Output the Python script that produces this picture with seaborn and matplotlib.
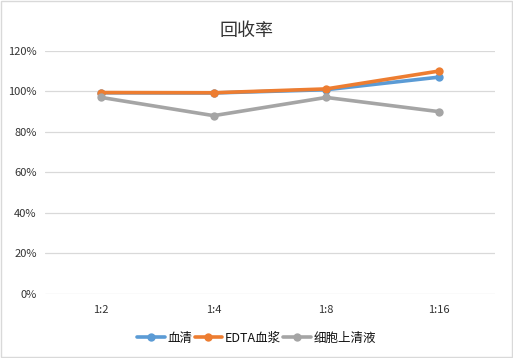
import numpy as np
import pandas as pd
import matplotlib
matplotlib.use('Agg')
import matplotlib.pyplot as plt
import seaborn as sns
from matplotlib.ticker import FuncFormatter

# Data
dilutions = ['1:2', '1:4', '1:8', '1:16']
serum = [99.3, 99.2, 100.8, 107.0]
edta_plasma = [99.4, 99.3, 101.2, 110.0]
cell_supernatant = [97.0, 88.0, 97.0, 90.0]
series_names = ['血清', 'EDTA血浆', '细胞上清液']
colors = ['#5B9BD5', '#ED7D31', '#A5A5A5']

df = pd.DataFrame({
    'dilution': dilutions * 3,
    'x': list(range(len(dilutions))) * 3,
    'value': serum + edta_plasma + cell_supernatant,
    'series': [s for s in series_names for _ in dilutions],
})

sns.set_theme(style='white')
plt.rcParams['font.family'] = ['Noto Sans CJK SC', 'DejaVu Sans']

fig = plt.figure(figsize=(5.13, 3.58), dpi=100)
ax = fig.add_axes([0.0877, 0.179, 0.877, 0.679])

sns.lineplot(data=df, x='x', y='value', hue='series', hue_order=series_names,
             palette=colors, marker='o', markersize=6, markeredgewidth=0,
             linewidth=2.6, ax=ax, legend=False)

ax.set_xlim(-0.5, 3.5)
ax.set_ylim(0, 120)
ax.set_yticks(np.arange(0, 121, 20))
ax.yaxis.set_major_formatter(FuncFormatter(lambda v, p: f'{v:.0f}%'))
ax.set_xticks(range(len(dilutions)))
ax.set_xticklabels(dilutions)
ax.grid(axis='y', color='#D9D9D9', linewidth=0.9)
ax.set_axisbelow(True)
for s in ax.spines.values():
    s.set_visible(False)
ax.tick_params(axis='both', length=0, labelsize=8, colors='#333333', pad=8)
ax.tick_params(axis='y', pad=6)
ax.set_xlabel('')
ax.set_ylabel('')

fig.text(0.48, 0.913, '回收率', ha='center', va='center', fontsize=13, color='#333333')

handles = [plt.Line2D([], [], color=c, marker='o', markersize=6, markeredgewidth=0,
                      linewidth=2.6) for c in colors]
fig.legend(handles, series_names, loc='center', bbox_to_anchor=(0.5, 0.055), ncol=3,
           frameon=False, fontsize=9, handlelength=2.2, handletextpad=0.2,
           columnspacing=0.2, labelcolor='#111111')

# light border around the whole chart
fig.patches.append(plt.Rectangle((0.002, 0.003), 0.996, 0.994, transform=fig.transFigure,
                                 fill=False, edgecolor='#D9D9D9', linewidth=1))

fig.savefig('out.png', dpi=100)
